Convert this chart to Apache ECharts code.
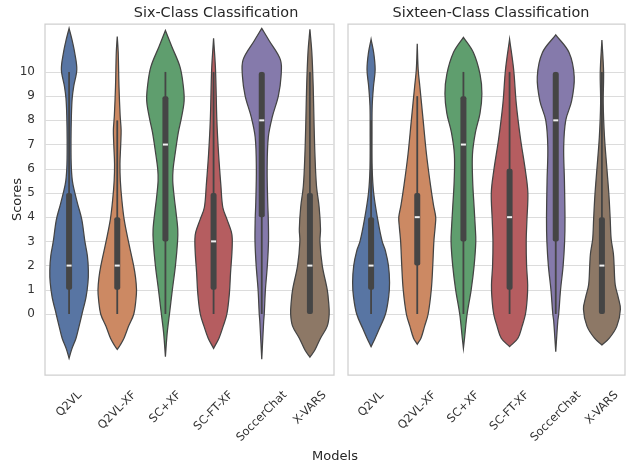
<!DOCTYPE html>
<html><head><meta charset="utf-8">
<script src="https://cdn.jsdelivr.net/npm/echarts@6/dist/echarts.min.js"></script>
<style>html,body{margin:0;padding:0;background:#fff}#c{width:640px;height:468px}</style>
</head><body><div id="c"></div>
<script>
const categories = ['Q2VL', 'Q2VL-XF', 'SC+XF', 'SC-FT-XF', 'SoccerChat', 'X-VARS'];
const yTickValues = [0, 1, 2, 3, 4, 5, 6, 7, 8, 9, 10];

// Box statistics per model: [lower whisker, q1, median, q3, upper whisker]
const sixBoxStats = [[0, 1, 2, 5, 10], [0, 1, 2, 4, 8], [0, 3, 7, 9, 10], [0, 1, 3, 5, 10], [0, 4, 8, 10, 10], [0, 0, 2, 5, 10]];
const sixteenBoxStats = [[0, 1, 2, 4, 8], [0, 2, 4, 5, 9], [0, 3, 7, 9, 10], [0, 1, 4, 6, 10], [0, 3, 8, 10, 10], [0, 0, 2, 4, 10]];

// Violin outlines: [score, relative density (1 = widest violin)]
const sixQ2VL = [[-1.83,0],[-1.45,0.14],[-1.0,0.36],[-0.5,0.52],[0,0.67],[0.7,0.88],[1.3,0.98],[1.8,1.0],[2.4,0.95],[3.0,0.82],[3.9,0.66],[4.5,0.46],[5.0,0.30],[5.5,0.17],[6.2,0.11],[7.2,0.10],[8.2,0.12],[8.9,0.16],[9.4,0.24],[10.1,0.40],[10.8,0.29],[11.3,0.16],[11.8,0]];
const sixQ2VLXF = [[-1.46,0],[-1.3,0.14],[-1.0,0.35],[-0.5,0.59],[0,0.86],[0.6,0.97],[1.0,1.0],[1.5,0.95],[2.0,0.85],[3.0,0.58],[3.9,0.36],[4.7,0.24],[5.5,0.16],[6.2,0.14],[7.0,0.18],[7.6,0.20],[8.2,0.15],[9.4,0.09],[10.8,0.05],[11.46,0]];
const sixSCXF = [[-1.76,0],[-0.8,0.09],[0,0.21],[1.0,0.36],[2.0,0.52],[3.0,0.63],[3.5,0.64],[4.2,0.55],[4.8,0.46],[5.5,0.38],[6.0,0.40],[6.6,0.50],[7.5,0.67],[8.1,0.83],[8.8,0.97],[9.4,0.93],[10.2,0.76],[11.05,0.33],[11.71,0]];
const sixSCFTXF = [[-1.42,0],[-1.0,0.28],[-0.5,0.5],[0,0.69],[0.85,0.82],[1.7,0.88],[2.5,0.95],[3.1,0.97],[3.4,0.92],[3.9,0.70],[4.4,0.48],[5.3,0.38],[6.6,0.26],[8.0,0.17],[10.1,0.10],[11.39,0]];
const sixSoccerChat = [[-1.87,0],[-0.3,0.10],[0,0.13],[1.0,0.19],[2.0,0.29],[3.0,0.35],[3.9,0.34],[4.6,0.31],[6.0,0.28],[7.3,0.34],[8.15,0.55],[9.0,0.86],[9.8,1.0],[10.5,0.97],[11.3,0.38],[11.8,0]];
const sixXVARS = [[-1.78,0],[-1.5,0.25],[-1.0,0.55],[-0.5,0.90],[0,1.0],[0.5,0.97],[1.0,0.90],[2.0,0.64],[3.0,0.52],[3.5,0.55],[4.4,0.48],[5.3,0.34],[6.6,0.26],[8.0,0.21],[9.4,0.17],[10.8,0.10],[11.76,0]];

const sixteenQ2VL = [[-1.35,0],[-1.0,0.22],[-0.6,0.45],[0,0.78],[0.7,0.95],[1.3,1.0],[2.0,0.94],[2.6,0.78],[3.0,0.60],[3.9,0.36],[5.0,0.14],[6.0,0.06],[7.5,0.05],[8.6,0.06],[9.4,0.13],[10.1,0.22],[10.8,0.14],[11.35,0]];
const sixteenQ2VLXF = [[-1.25,0],[-1.0,0.2],[-0.5,0.40],[0,0.59],[1.0,0.76],[2.0,0.84],[3.0,0.90],[3.6,0.97],[4.0,1.0],[4.5,0.88],[5.3,0.72],[6.6,0.50],[8.0,0.32],[9.4,0.14],[10.1,0.05],[11.16,0]];
const sixteenSCXF = [[-1.42,0],[-1.0,0.06],[0,0.2],[1.0,0.42],[2.0,0.58],[3.0,0.67],[3.6,0.64],[4.4,0.58],[5.5,0.50],[6.6,0.49],[7.5,0.65],[8.3,0.9],[9.1,1.0],[9.9,0.9],[10.8,0.54],[11.43,0]];
const sixteenSCFTXF = [[-1.35,0],[-1.0,0.45],[-0.5,0.68],[0,0.86],[0.6,0.95],[1.2,0.98],[2.0,0.92],[3.0,0.90],[3.9,0.94],[5.0,0.99],[5.9,0.86],[7.3,0.58],[8.7,0.36],[10.1,0.22],[11.35,0]];
const sixteenSoccerChat = [[-1.56,0],[-0.3,0.11],[0,0.16],[1.0,0.26],[2.0,0.40],[3.0,0.48],[3.9,0.50],[5.5,0.47],[6.9,0.43],[8.0,0.54],[8.8,0.86],[9.8,1.0],[10.8,0.72],[11.53,0]];
const sixteenXVARS = [[-1.28,0],[-1.0,0.4],[-0.5,0.81],[0.2,1.0],[0.7,0.88],[1.2,0.72],[2.0,0.66],[2.5,0.62],[3.1,0.50],[3.9,0.45],[4.9,0.38],[6.0,0.27],[7.3,0.14],[8.7,0.07],[10.0,0.09],[11.32,0]];

const sixOutlines = [sixQ2VL, sixQ2VLXF, sixSCXF, sixSCFTXF, sixSoccerChat, sixXVARS];
const sixteenOutlines = [sixteenQ2VL, sixteenQ2VLXF, sixteenSCXF, sixteenSCFTXF, sixteenSoccerChat, sixteenXVARS];

const palette = ['#5875a3', '#cc8963', '#5f9e6e', '#b55d60', '#857aab', '#8d7866'];
const Y_MIN = -2.52, Y_MAX = 11.98;
const FONT = '"DejaVu Sans", sans-serif';
const TICK_SIZE = 11.5;
const YTICK_SIZE = 12;

const measureCtx = document.createElement('canvas').getContext('2d');
measureCtx.font = TICK_SIZE + 'px ' + FONT;

function makeRender(outlines, boxes) {
  return function (params, api) {
    const i = api.value(0);
    const outline = outlines[i];
    const box = boxes[i];
    const band = api.size([1, 0])[0];
    const half = 0.4 * band;
    const cx = api.coord([i, 0])[0];
    const yOf = v => api.coord([i, v])[1];
    const left = outline.map(p => [cx - p[1] * half, yOf(p[0])]);
    const right = outline.map(p => [cx + p[1] * half, yOf(p[0])]).reverse();
    const pts = left.concat(right);
    const children = [];
    children.push({ type: 'polygon', shape: { points: pts, smooth: 0.35 },
      style: { fill: palette[i], stroke: '#444444', lineWidth: 1.25 } });
    children.push({ type: 'line', shape: { x1: cx, y1: yOf(box[0]), x2: cx, y2: yOf(box[4]) },
      style: { stroke: '#454545', lineWidth: 1.8 } });
    const yq3 = yOf(box[3]), yq1 = yOf(box[1]);
    children.push({ type: 'rect', shape: { x: cx - 3, y: yq3, width: 6, height: yq1 - yq3, r: 2 },
      style: { fill: '#454545' } });
    const ym = yOf(box[2]);
    children.push({ type: 'rect', shape: { x: cx - 2.5, y: ym - 1, width: 5, height: 2 },
      style: { fill: '#f2f2f2' } });
    // category label, rotated 45 degrees and centred under its tick
    const label = categories[i];
    const w = measureCtx.measureText(label).width;
    const h = TICK_SIZE * 1.17;
    const yBottom = api.coord([i, Y_MIN])[1];
    const cy = yBottom + 13.5 + 0.3536 * (w + h);
    children.push({ type: 'text', x: cx, y: cy, rotation: Math.PI / 4,
      style: { text: label, font: TICK_SIZE + 'px ' + FONT, fill: '#333333', align: 'center', verticalAlign: 'middle' } });
    return { type: 'group', children: children };
  };
}

const chart = echarts.init(document.getElementById('c'), null, { renderer: 'canvas' });

function yAxisFor(gridIndex, showLabels) {
  return {
    type: 'value', gridIndex: gridIndex, min: Y_MIN, max: Y_MAX,
    name: showLabels ? 'Scores' : '', nameLocation: 'middle', nameGap: 21, nameMoveOverlap: false,
    nameTextStyle: { fontFamily: FONT, fontSize: 13, color: '#262626' },
    axisLine: { show: false },
    axisTick: { show: false, customValues: yTickValues },
    axisLabel: { show: showLabels, customValues: yTickValues, margin: 10,
      fontFamily: FONT, fontSize: YTICK_SIZE, color: '#333333' },
    splitLine: { show: true, lineStyle: { color: '#dcdcdc', width: 1 } }
  };
}
function xAxisFor(gridIndex) {
  return {
    type: 'category', gridIndex: gridIndex, data: categories, boundaryGap: true,
    axisLine: { show: false }, axisTick: { show: false }, axisLabel: { show: false },
    splitLine: { show: false }
  };
}

const option = {
  animation: false,
  backgroundColor: '#ffffff',
  grid: [
    { left: 45, top: 24, width: 289, height: 351, show: true, borderColor: '#cfcfcf', borderWidth: 1.25, backgroundColor: 'transparent' },
    { left: 348, top: 24, width: 277, height: 351, show: true, borderColor: '#cfcfcf', borderWidth: 1.25, backgroundColor: 'transparent' }
  ],
  xAxis: [xAxisFor(0), xAxisFor(1)],
  yAxis: [yAxisFor(0, true), yAxisFor(1, false)],
  graphic: [
    { type: 'text', x: 216, y: 13, style: { text: 'Six-Class Classification', font: '14.4px ' + FONT, fill: '#262626', align: 'center', verticalAlign: 'middle' } },
    { type: 'text', x: 491, y: 13, style: { text: 'Sixteen-Class Classification', font: '14.4px ' + FONT, fill: '#262626', align: 'center', verticalAlign: 'middle' } },
    { type: 'text', x: 335, y: 457, style: { text: 'Models', font: '13px ' + FONT, fill: '#262626', align: 'center', verticalAlign: 'middle' } }
  ],
  series: [
    { type: 'custom', xAxisIndex: 0, yAxisIndex: 0, clip: false,
      data: categories.map((c, i) => [i, sixBoxStats[i][2]]),
      renderItem: makeRender(sixOutlines, sixBoxStats) },
    { type: 'custom', xAxisIndex: 1, yAxisIndex: 1, clip: false,
      data: categories.map((c, i) => [i, sixteenBoxStats[i][2]]),
      renderItem: makeRender(sixteenOutlines, sixteenBoxStats) }
  ]
};
chart.setOption(option);
</script></body></html>
